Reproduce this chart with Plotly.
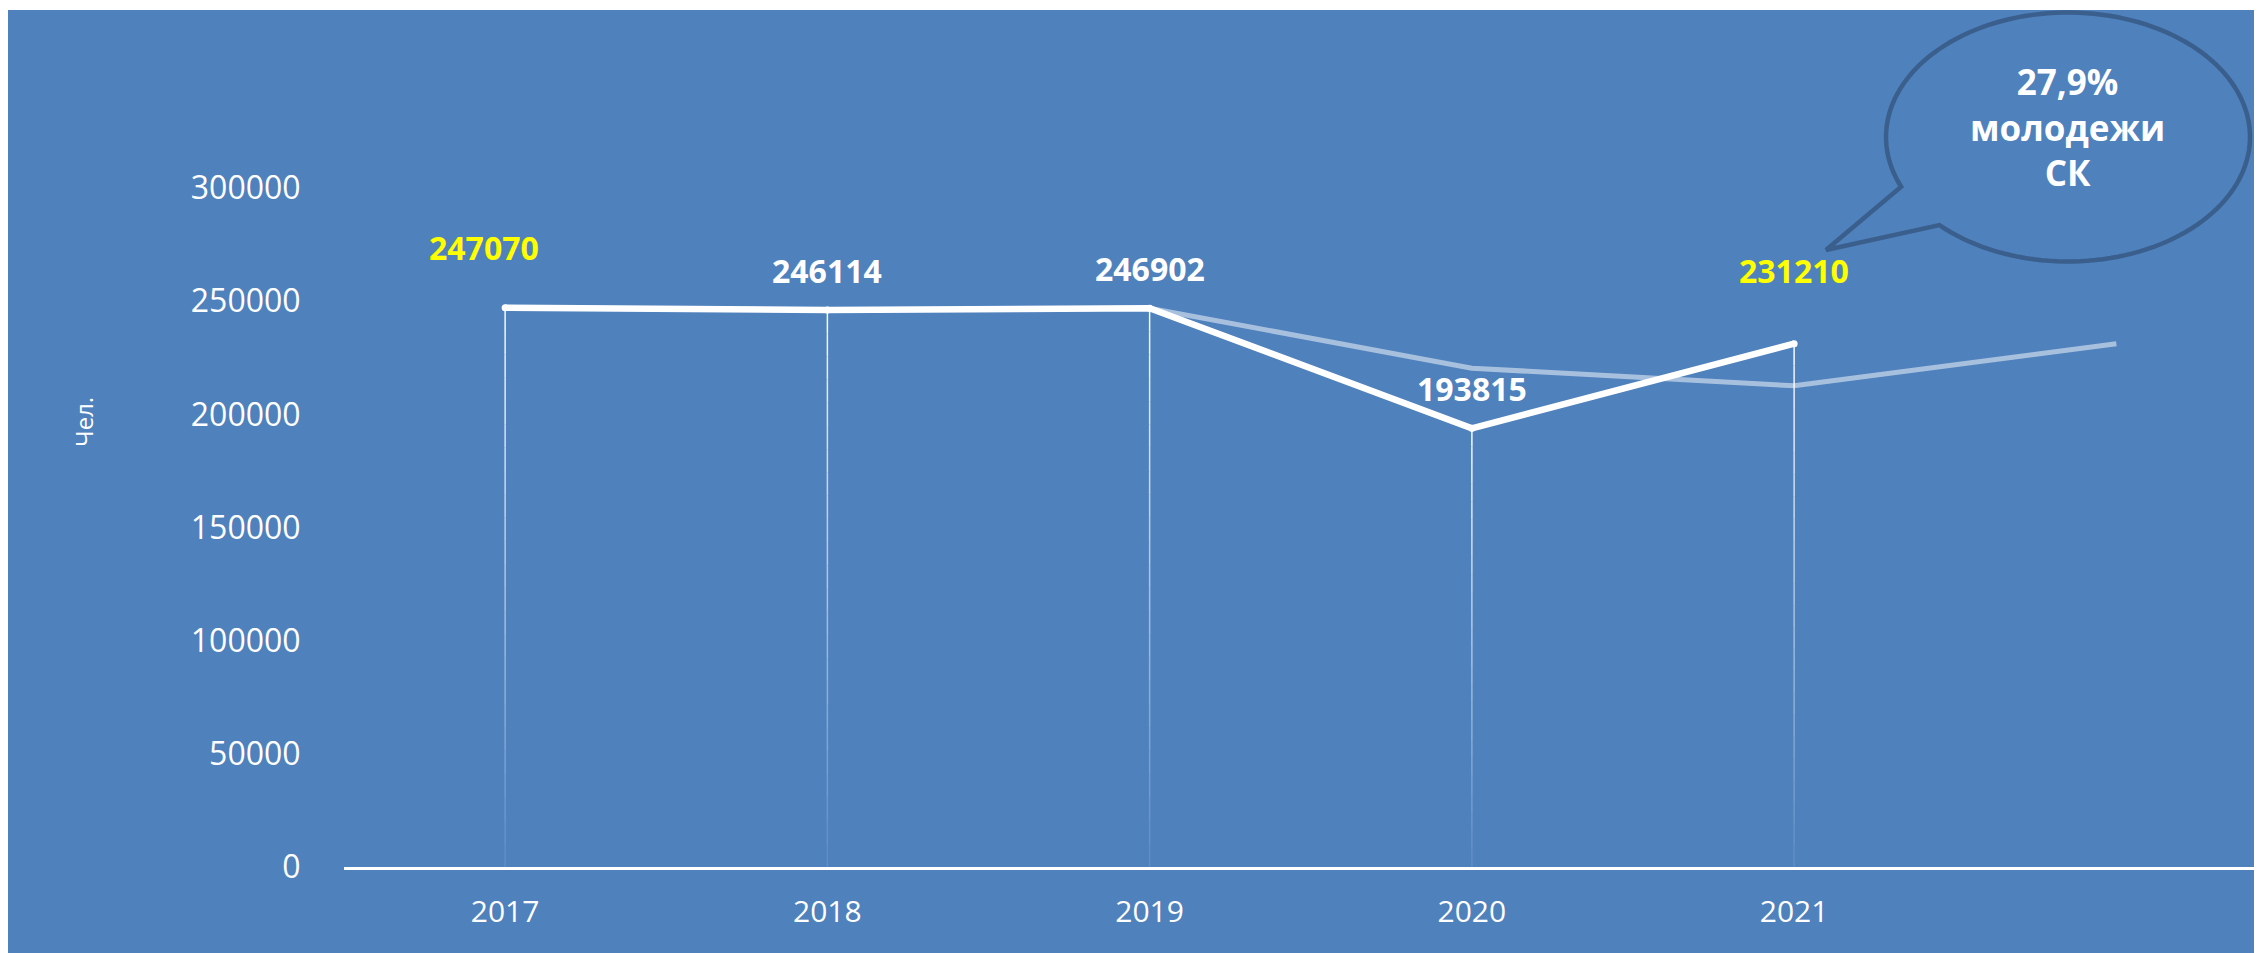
import numpy as np
import plotly.graph_objects as go

# ---- data ----
years = ["2017", "2018", "2019", "2020", "2021"]
youth = [247070, 246114, 246902, 193815, 231210]          # main (white) series
trend = [247070, 246114, 246902, 220400, 212600, 231210]   # light comparison series
label_colors = ["#FFFF00", "#FFFFFF", "#FFFFFF", "#FFFFFF", "#FFFF00"]
y_ticks = [0, 50000, 100000, 150000, 200000, 250000, 300000]
callout_text = ["27,9%", "молодежи", "СК"]
y_title = "Чел."

# ---- layout geometry (screen pixels; page body adds an 8px offset) ----
OX, OY = 8, 8
W, H = 2262 - OX, 953 - OY
ML, MR, MT, MB = 344 - OX, 0, 188 - OY, 86
PW, PH = W - ML - MR, H - MT - MB
BG = "#4F81BD"
FONT = "Open Sans"

def px2paper(sx, sy):
    px, py = sx - OX, sy - OY
    return (px - ML) / PW, (H - MB - py) / PH

fig = go.Figure()

# light comparison line
fig.add_trace(go.Scatter(
    x=list(range(len(trend))), y=trend, mode="lines",
    line=dict(color="rgba(255,255,255,0.5)", width=5),
    hoverinfo="skip", showlegend=False))

# main white line
fig.add_trace(go.Scatter(
    x=list(range(len(youth))), y=youth, mode="lines+markers",
    line=dict(color="white", width=6.5),
    marker=dict(color="white", size=7),
    hoverinfo="skip", showlegend=False))

shapes = []
# background panel
x0p, y0p = px2paper(8, 10)
x1p, y1p = px2paper(2262, 953)
shapes.append(dict(type="rect", xref="paper", yref="paper", x0=x0p, y0=y1p, x1=x1p, y1=y0p,
                   fillcolor=BG, line=dict(width=0), layer="below"))

# drop lines with fading gradient
N = 24
for i, v in enumerate(youth):
    for k in range(N):
        ya = v * (1 - k / N)
        yb = v * (1 - (k + 1) / N)
        op = 0.95 - 0.85 * (k / (N - 1))
        shapes.append(dict(type="line", xref="x", yref="y", x0=i, x1=i, y0=ya, y1=yb,
                           line=dict(color=f"rgba(255,255,255,{op:.3f})", width=1.5), layer="below"))

# speech-bubble callout
cx, cy, rx, ry = 2068, 137, 182, 124.5
tipA, tipB, tip = (1900, 187), (1941, 224), (1826, 250)
thA = np.arctan2((tipA[1] - cy) / ry, (tipA[0] - cx) / rx)
thB = np.arctan2((tipB[1] - cy) / ry, (tipB[0] - cx) / rx)
if thB < thA:
    thB += 2 * np.pi
ths = np.linspace(thA, thB, 140)
pts = [(cx + rx * np.cos(t), cy + ry * np.sin(t)) for t in ths] + [tip]
pp = [px2paper(a, b) for a, b in pts]
path = "M " + " L ".join(f"{a:.5f},{b:.5f}" for a, b in pp) + " Z"
shapes.append(dict(type="path", xref="paper", yref="paper", path=path,
                   fillcolor=BG, line=dict(color="#3A5F8C", width=4.5), layer="above"))

annotations = []
# data labels
label_shift = [(-21, 60), (0, 39), (0, 40), (0, 40), (0, 73)]
for i, v in enumerate(youth):
    dx, dy = label_shift[i]
    annotations.append(dict(x=i, y=v, xref="x", yref="y", text=f"<b>{v}</b>", showarrow=False,
                            xshift=dx, yshift=dy, font=dict(family=FONT, size=32, color=label_colors[i])))
# callout text
tx, ty = px2paper(2067, 127)
annotations.append(dict(x=tx, y=ty, xref="paper", yref="paper", showarrow=False,
                        xanchor="center", yanchor="middle", align="center",
                        text="<b>" + "<br>".join(callout_text) + "</b>",
                        font=dict(family=FONT, size=35, color="white")))
# y-axis title
ax_, ay_ = px2paper(83, 422)
annotations.append(dict(x=ax_, y=ay_, xref="paper", yref="paper", showarrow=False, text=y_title,
                        xanchor="center", yanchor="middle",
                        textangle=-90, font=dict(family=FONT, size=24, color="white")))

fig.update_layout(
    width=W, height=H,
    margin=dict(l=ML, r=MR, t=MT, b=MB, pad=0),
    paper_bgcolor="white", plot_bgcolor=BG,
    shapes=shapes, annotations=annotations,
    font=dict(family=FONT, color="white"),
    xaxis=dict(range=[-0.5, -0.5 + PW / 322.25], tickmode="array",
               tickvals=list(range(len(years))), ticktext=years,
               showgrid=False, zeroline=False, showline=True, linecolor="white", linewidth=3,
               ticks="outside", ticklen=16, tickcolor="rgba(0,0,0,0)",
               tickfont=dict(family=FONT, size=30, color="white")),
    yaxis=dict(range=[0, 300000], tickmode="array", tickvals=y_ticks,
               ticktext=[str(t) for t in y_ticks],
               showgrid=False, zeroline=False, showline=False,
               ticks="outside", ticklen=36, tickcolor="rgba(0,0,0,0)",
               tickfont=dict(family=FONT, size=32, color="white")),
)

fig.write_html("out.html", config={"displayModeBar": False})
